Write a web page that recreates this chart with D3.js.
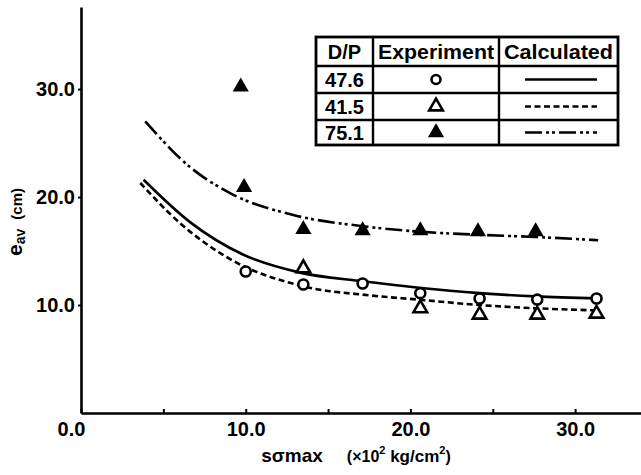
<!DOCTYPE html>
<html>
<head>
<style>
    body { margin: 0; background: #fff; }
    text { font-family: "Liberation Sans", Arial, sans-serif; font-weight: bold; fill: #000; }
    .calc { fill: none; stroke: #000; stroke-width: 2.6; }
</style>
</head>
<body>
<svg id="chart" width="641" height="475"></svg>
<script src="https://cdn.jsdelivr.net/npm/d3@7"></script>
<script>
    // tick labels
    const xTicks = [0, 5, 10, 15, 20, 25, 30];
    const xTickLabels = {0: "0.0", 10: "10.0", 20: "20.0", 30: "30.0"};
    const yTicks = [10, 20, 30];
    const yTickLabels = {10: "10.0", 20: "20.0", 30: "30.0"};

    // legend rows (D/P)
    const dpValues = ["47.6", "41.5", "75.1"];

    // experiment points
    const circX = [10.0, 13.5, 17.1, 20.6, 24.2, 27.7, 31.3];
    const circY = [13.1, 11.9, 12.0, 11.1, 10.6, 10.5, 10.6];
    const openTriX = [13.5, 20.6, 24.2, 27.7, 31.3];
    const openTriY = [13.4, 9.7, 9.1, 9.1, 9.2];
    const fillTriX = [9.7, 9.9, 13.5, 17.1, 20.6, 24.1, 27.6];
    const fillTriY = [30.2, 20.9, 17.0, 16.9, 16.9, 16.8, 16.8];

    // calculated curves
    const calc476X = [3.8, 6.6, 9.8, 13.3, 17.1, 20.5, 24.2, 27.6, 31.4];
    const calc476Y = [21.6, 17.7, 14.7, 13.0, 12.2, 11.6, 11.1, 10.8, 10.6];
    const calc415X = [3.6, 6.0, 9.0, 13.6, 17.5, 20.5, 24.2, 27.6, 31.4];
    const calc415Y = [21.3, 17.6, 14.3, 11.7, 10.9, 10.5, 10.0, 9.7, 9.5];
    const calc751X = [3.9, 6.6, 9.0, 13.0, 17.1, 20.5, 24.2, 27.6, 31.4];
    const calc751Y = [27.0, 22.8, 20.4, 18.3, 17.3, 16.8, 16.5, 16.3, 16.0];

    const svg = d3.select("#chart");
    let x = d3.scaleLinear().domain([0, 34]).range([81, 641]);
    let y = d3.scaleLinear().domain([0, 37.6]).range([413, 7]);

    const dashes = ["none", "6,3.5", "17,4,3,3,3,4"];

    // axes
    let xAxis = svg.append("g")
        .attr("transform", "translate(0,413)")
        .call(d3.axisBottom(x).tickValues(xTicks).tickSizeInner(-4).tickSizeOuter(0)
            .tickFormat((d) => xTickLabels[d] || ""));
    xAxis.select(".domain").attr("stroke-width", 2.6);
    xAxis.selectAll(".tick line").attr("stroke-width", 2);
    xAxis.selectAll(".tick text").attr("font-size", 20).attr("dy", "0.95em").attr("y", 4);
    xAxis.selectAll(".tick").filter((d) => d === 0).select("text").attr("dx", -10);

    let yAxis = svg.append("g")
        .attr("transform", "translate(81,0)")
        .call(d3.axisLeft(y).tickValues(yTicks).tickSizeInner(3).tickSizeOuter(0)
            .tickFormat((d) => yTickLabels[d]));
    yAxis.select(".domain").attr("stroke-width", 2.6);
    yAxis.selectAll(".tick line").attr("stroke-width", 2);
    yAxis.selectAll(".tick text").attr("font-size", 20).attr("x", -6);

    // axis titles
    let yt = svg.append("text")
        .attr("transform", "translate(22,222) rotate(-90)")
        .attr("text-anchor", "middle")
        .attr("font-size", 21);
    yt.append("tspan").text("e");
    yt.append("tspan").attr("font-size", 14).attr("dy", 3).text("av");
    yt.append("tspan").attr("font-size", 15).attr("dy", -3).attr("dx", 9).text("(cm)");

    let xt = svg.append("text")
        .attr("x", 356).attr("y", 462)
        .attr("text-anchor", "middle")
        .attr("font-size", 19);
    xt.append("tspan").text("sσmax");
    xt.append("tspan").attr("dx", 24).attr("font-size", 16).text("(×10");
    xt.append("tspan").attr("font-size", 11).attr("dy", -8).text("2");
    xt.append("tspan").attr("dy", 8).attr("font-size", 17).text(" kg/cm");
    xt.append("tspan").attr("font-size", 11).attr("dy", -8).text("2");
    xt.append("tspan").attr("dy", 8).attr("font-size", 16).text(")");

    // calculated curves
    let line = d3.line().curve(d3.curveMonotoneX).x((d) => x(d[0])).y((d) => y(d[1]));
    const curves = [
        d3.zip(calc476X, calc476Y),
        d3.zip(calc415X, calc415Y),
        d3.zip(calc751X, calc751Y)
    ];
    svg.append("g").selectAll("path")
        .data(curves)
        .enter()
        .append("path")
            .attr("class", "calc")
            .attr("d", line)
            .attr("stroke-dasharray", (d, i) => dashes[i]);

    // markers
    let tri = d3.symbol().type(d3.symbolTriangle).size(80);
    svg.append("g").selectAll("circle")
        .data(d3.zip(circX, circY))
        .enter()
        .append("circle")
            .attr("cx", (d) => x(d[0]))
            .attr("cy", (d) => y(d[1]))
            .attr("r", 5)
            .attr("fill", "#fff")
            .attr("stroke", "#000")
            .attr("stroke-width", 2.6);
    svg.append("g").selectAll("path")
        .data(d3.zip(openTriX, openTriY))
        .enter()
        .append("path")
            .attr("d", tri)
            .attr("transform", (d) => `translate(${x(d[0])},${y(d[1])})`)
            .attr("fill", "#fff")
            .attr("stroke", "#000")
            .attr("stroke-width", 2.6);
    svg.append("g").selectAll("path")
        .data(d3.zip(fillTriX, fillTriY))
        .enter()
        .append("path")
            .attr("d", tri)
            .attr("transform", (d) => `translate(${x(d[0])},${y(d[1])})`)
            .attr("fill", "#000")
            .attr("stroke", "#000")
            .attr("stroke-width", 1.5);

    // legend table
    let lg = svg.append("g");
    const colX = [316, 373, 499, 618];
    const rowY = [37, 66, 93, 120, 145];
    lg.append("rect")
        .attr("x", colX[0]).attr("y", rowY[0])
        .attr("width", colX[3] - colX[0]).attr("height", rowY[4] - rowY[0])
        .attr("fill", "#fff").attr("stroke", "#000").attr("stroke-width", 2.8);
    colX.slice(1, 3).forEach((cx) => {
        lg.append("line").attr("x1", cx).attr("x2", cx).attr("y1", rowY[0]).attr("y2", rowY[4])
            .attr("stroke", "#000").attr("stroke-width", 2.4);
    });
    rowY.slice(1, 4).forEach((ry) => {
        lg.append("line").attr("x1", colX[0]).attr("x2", colX[3]).attr("y1", ry).attr("y2", ry)
            .attr("stroke", "#000").attr("stroke-width", 2.4);
    });
    const headers = ["D/P", "Experiment", "Calculated"];
    headers.forEach((h, i) => {
        let t = lg.append("text")
            .attr("x", (colX[i] + colX[i + 1]) / 2).attr("y", rowY[1] - 7)
            .attr("text-anchor", "middle").attr("font-size", 20)
            .text(h);
        if (i > 0) {
            t.attr("textLength", (colX[i + 1] - colX[i]) - 10)
                .attr("lengthAdjust", "spacingAndGlyphs");
        }
    });
    dpValues.forEach((v, i) => {
        let cy = (rowY[i + 1] + rowY[i + 2]) / 2;
        lg.append("text")
            .attr("x", (colX[0] + colX[1]) / 2).attr("y", cy + 7)
            .attr("text-anchor", "middle").attr("font-size", 20)
            .text(v);
        if (i === 0) {
            lg.append("circle").attr("cx", 436).attr("cy", cy).attr("r", 4.5)
                .attr("fill", "#fff").attr("stroke", "#000").attr("stroke-width", 2.6);
        } else {
            lg.append("path").attr("d", tri).attr("transform", `translate(436,${cy})`)
                .attr("fill", i === 2 ? "#000" : "#fff")
                .attr("stroke", "#000").attr("stroke-width", i === 2 ? 1.5 : 2.6);
        }
        lg.append("line").attr("class", "calc")
            .attr("x1", 525).attr("x2", 597).attr("y1", cy).attr("y2", cy)
            .attr("stroke-dasharray", dashes[i]);
    });
</script>
</body>
</html>
